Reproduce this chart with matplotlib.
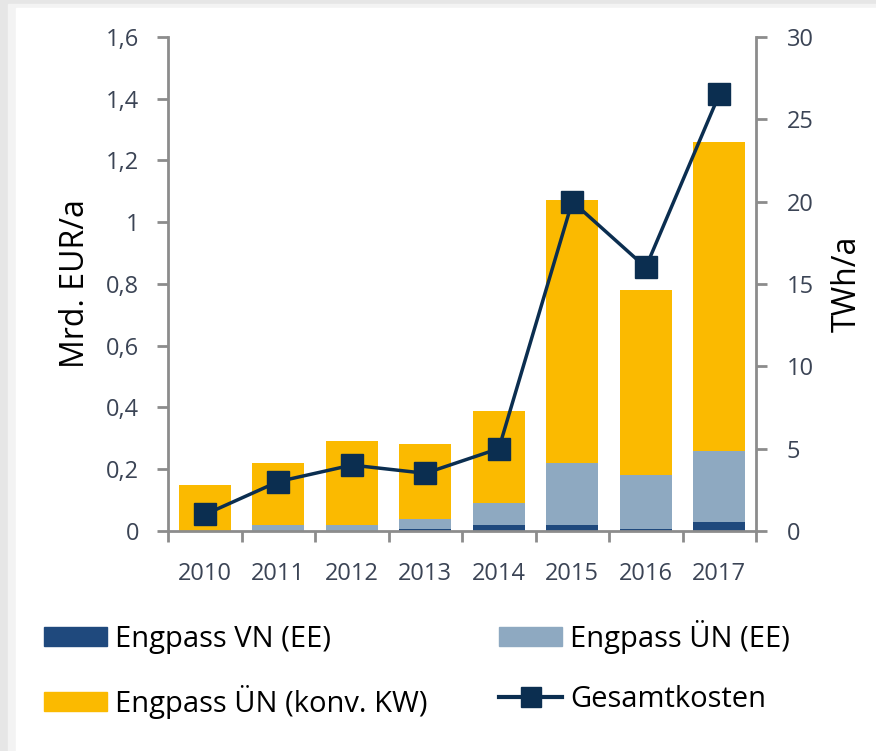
import numpy as np
import matplotlib.pyplot as plt
from matplotlib.patches import Rectangle
from matplotlib.lines import Line2D

plt.rcParams['font.family'] = ['Open Sans', 'DejaVu Sans']

years = ['2010', '2011', '2012', '2013', '2014', '2015', '2016', '2017']
vn_ee = [0.0, 0.0, 0.0, 0.005, 0.02, 0.02, 0.005, 0.03]
un_ee = [0.0, 0.02, 0.02, 0.035, 0.07, 0.20, 0.175, 0.23]
un_konv = [0.15, 0.20, 0.27, 0.24, 0.30, 0.85, 0.60, 1.00]
gesamt = [1.0, 3.0, 4.0, 3.5, 5.0, 20.0, 16.0, 26.5]

c_vn = '#1f497d'
c_ee = '#8ea9c1'
c_konv = '#fbba00'
c_line = '#0b2e50'
c_axis = '#8c8c8c'
c_tick = '#3b4455'

fig = plt.figure(figsize=(8.76, 7.51), dpi=100)
# light shadow frame along top and left edge
fig.patches.append(Rectangle((0, 0), 1, 1, transform=fig.transFigure, color='#e6e6e6', zorder=-3))
fig.patches.append(Rectangle((0.009, 0), 0.991, 0.995, transform=fig.transFigure, color='#f3f3f3', zorder=-2))
fig.patches.append(Rectangle((0.018, 0), 0.982, 0.990, transform=fig.transFigure, color='white', zorder=-1))

ax = fig.add_axes([0.192, 0.293, 0.671, 0.658])
x = np.arange(len(years))
w = 0.71
b1 = np.array(vn_ee)
b2 = b1 + np.array(un_ee)
ax.bar(x, vn_ee, w, color=c_vn, zorder=2)
ax.bar(x, un_ee, w, bottom=b1, color=c_ee, zorder=2)
ax.bar(x, un_konv, w, bottom=b2, color=c_konv, zorder=2)

ax.set_xlim(-0.5, len(years) - 0.5)
ax.set_ylim(0, 1.6)
ax.set_yticks(np.arange(0, 1.61, 0.2))
ax.set_yticklabels(['0', '0,2', '0,4', '0,6', '0,8', '1', '1,2', '1,4', '1,6'])
ax.set_xticks(x)
ax.set_xticklabels(years)
ax.set_xticks(np.arange(-0.5, len(years)), minor=True)
ax.tick_params(axis='x', which='major', length=0, pad=22, labelsize=17, colors=c_tick)
ax.tick_params(axis='x', which='minor', length=8, width=2, color=c_axis)
ax.tick_params(axis='y', length=8, width=2, color=c_axis, labelsize=17, labelcolor=c_tick, pad=13)
ax.set_ylabel('Mrd. EUR/a', fontsize=23, labelpad=10)
for s in ['top', 'right']:
    ax.spines[s].set_visible(False)
for s in ['left', 'bottom']:
    ax.spines[s].set_color(c_axis)
    ax.spines[s].set_linewidth(2)

ax2 = ax.twinx()
ax2.plot(x, gesamt, color=c_line, lw=2.5, marker='s', ms=16, zorder=3)
ax2.set_ylim(0, 30)
ax2.set_yticks(np.arange(0, 31, 5))
ax2.tick_params(axis='y', length=8, width=2, color=c_axis, labelsize=17, labelcolor=c_tick, pad=14)
ax2.set_ylabel('TWh/a', fontsize=23, labelpad=12)
for s in ['top', 'left', 'bottom']:
    ax2.spines[s].set_visible(False)
ax2.spines['right'].set_color(c_axis)
ax2.spines['right'].set_linewidth(2)

# column-major order for a 2-column legend
handles = [
    Rectangle((0, 0), 1, 1, color=c_vn),
    Rectangle((0, 0), 1, 1, color=c_konv),
    Rectangle((0, 0), 1, 1, color=c_ee),
    Line2D([], [], color=c_line, lw=3, marker='s', ms=15),
]
labels = ['Engpass VN (EE)', 'Engpass ÜN (konv. KW)', 'Engpass ÜN (EE)', 'Gesamtkosten']
fig.legend(handles, labels, loc='upper left', bbox_to_anchor=(0.034, 0.194), ncol=2,
           frameon=False, fontsize=21, handlelength=2.15, handleheight=0.62,
           handletextpad=0.28, columnspacing=2.45, labelspacing=1.05, borderpad=0)

fig.savefig('out.png', dpi=100)
